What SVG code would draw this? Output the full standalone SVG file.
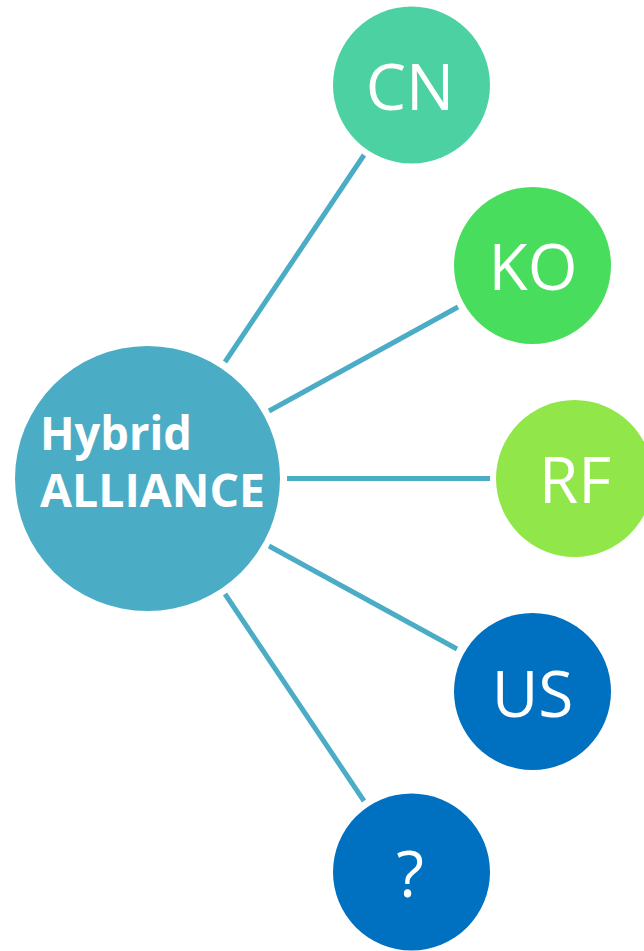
<svg xmlns="http://www.w3.org/2000/svg" width="644" height="951" viewBox="0 0 644 951">
  <style>
    .link { stroke: #4BACC6; stroke-width: 5; stroke-linecap: butt; fill: none; }
    .hub-label { font-family: "Open Sans", "Noto Sans", "Liberation Sans", sans-serif; font-weight: 700; font-size: 46px; fill: #FFFFFF; }
    .node-label { font-family: "Open Sans", "Noto Sans", "Liberation Sans", sans-serif; font-weight: 400; font-size: 64px; fill: #FFFFFF; text-anchor: middle; }
  </style>
  <rect width="644" height="951" fill="#FFFFFF"/>

  <!-- spokes from the hub to each member -->
  <g id="connectors">
    <line class="link" x1="225" y1="362" x2="364" y2="155"/>
    <line class="link" x1="269" y1="411" x2="458" y2="307"/>
    <line class="link" x1="287" y1="478.5" x2="490" y2="478.5"/>
    <line class="link" x1="269" y1="546" x2="457" y2="649"/>
    <line class="link" x1="225" y1="594" x2="364" y2="801"/>
  </g>

  <g id="hub">
    <circle cx="147.5" cy="478.5" r="132.5" fill="#4BACC6"/>
    <text class="hub-label" x="40" y="450" textLength="152" lengthAdjust="spacingAndGlyphs">Hybrid</text>
    <text class="hub-label" x="40" y="507" textLength="225" lengthAdjust="spacingAndGlyphs">ALLIANCE</text>
  </g>

  <g id="node-cn">
    <circle cx="411.5" cy="85" r="78.5" fill="#4CD1A3"/>
    <text class="node-label" x="410" y="110">CN</text>
  </g>

  <g id="node-ko">
    <circle cx="532.5" cy="265.5" r="78.5" fill="#48DD5C"/>
    <text class="node-label" x="533" y="290">KO</text>
  </g>

  <g id="node-rf">
    <circle cx="574.5" cy="478.5" r="78.5" fill="#91E64A"/>
    <text class="node-label" x="575" y="503">RF</text>
  </g>

  <g id="node-us">
    <circle cx="532.5" cy="691.5" r="78.5" fill="#0070C0"/>
    <text class="node-label" x="532.5" y="717">US</text>
  </g>

  <g id="node-unknown">
    <circle cx="411.5" cy="872" r="78.5" fill="#0070C0"/>
    <text class="node-label" x="410" y="897">?</text>
  </g>
</svg>
